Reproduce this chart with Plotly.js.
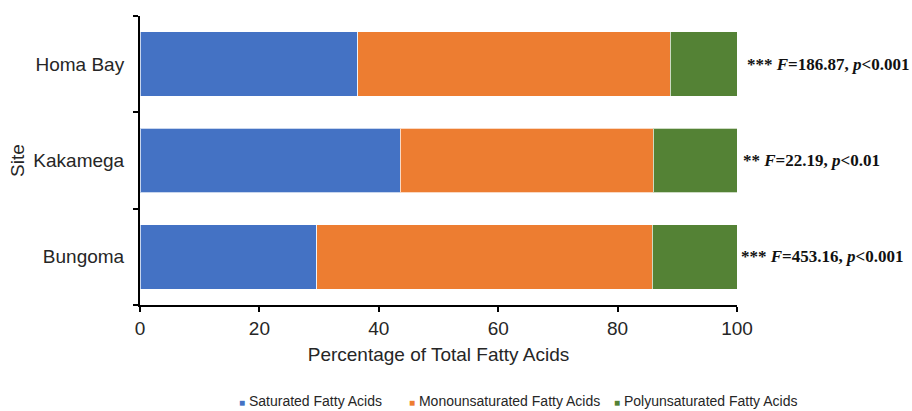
<!DOCTYPE html>
<html>
<head>
<meta charset="utf-8">
<script src="https://cdn.plot.ly/plotly-3.0.1.min.js"></script>
<style>html,body{margin:0;padding:0;background:#fff;}#chart{width:912px;height:411px;}</style>
</head>
<body>
<div id="chart"></div>
<script>
const sites = ['Bungoma', 'Kakamega', 'Homa Bay'];
const saturated = [29.6, 43.6, 36.5];
const monounsaturated = [56.2, 42.4, 52.3];
const polyunsaturated = [14.2, 14.0, 11.2];
const seriesNames = ['Saturated Fatty Acids', 'Monounsaturated Fatty Acids', 'Polyunsaturated Fatty Acids'];
const statLabels = [
  '*** <i>F</i>=453.16, <i>p</i>&lt;0.001',
  '** <i>F</i>=22.19, <i>p</i>&lt;0.01',
  '*** <i>F</i>=186.87, <i>p</i>&lt;0.001'
];
const xTicks = [0, 20, 40, 60, 80, 100];

const colors = ['#4472C4', '#ED7D31', '#548235'];
const statX = [1.004, 1.007, 1.0135];
const legendX = [0.162, 0.448, 0.79];
const values = [saturated, monounsaturated, polyunsaturated];
const traces = values.map((v, i) => ({
  type: 'bar', orientation: 'h', y: sites, x: v, name: seriesNames[i],
  marker: {color: colors[i], line: {color: 'rgba(255,255,255,0.7)', width: 1}},
  hoverinfo: 'x+y', showlegend: false
}));

const annotations = sites.map((s, i) => ({
  x: statX[i], y: s, xref: 'paper', yref: 'y', xanchor: 'left', yanchor: 'middle',
  text: '<b>' + statLabels[i] + '</b>', showarrow: false,
  font: {family: 'Liberation Serif, Times New Roman, serif', size: 17, color: '#111'}
}));
seriesNames.forEach((n, i) => annotations.push({
  x: legendX[i], y: -0.332, xref: 'paper', yref: 'paper', xanchor: 'left', yanchor: 'middle',
  text: '<span style="color:' + colors[i] + ';font-size:10px">■</span> ' + n, showarrow: false,
  font: {family: 'Liberation Sans, Arial, sans-serif', size: 14, color: '#262626'}
}));

const layout = {
  width: 912, height: 411,
  margin: {l: 140, r: 175, t: 16, b: 106},
  paper_bgcolor: '#fff', plot_bgcolor: '#fff',
  barmode: 'stack', bargap: 0.33,
  font: {family: 'Liberation Sans, Arial, sans-serif', color: '#262626'},
  xaxis: {
    range: [0, 100], tickvals: xTicks, ticktext: xTicks.map(String),
    showgrid: false, zeroline: false,
    showline: true, linecolor: '#000', linewidth: 2,
    ticks: 'outside', ticklen: 5, tickcolor: '#000', tickwidth: 2,
    tickfont: {size: 19},
    title: {text: 'Percentage of Total Fatty Acids', font: {size: 19}, standoff: 10}
  },
  yaxis: {
    categoryorder: 'array', categoryarray: sites,
    showgrid: false, zeroline: false,
    showline: true, linecolor: '#000', linewidth: 2,
    ticks: 'outside', tickson: 'boundaries', ticklen: 5, tickcolor: '#000', tickwidth: 2,
    tickfont: {size: 19}, ticklabelstandoff: 10,
    title: {text: 'Site', font: {size: 19}, standoff: 4}
  },
  showlegend: false,
  annotations: annotations
};

Plotly.newPlot('chart', traces, layout, {displayModeBar: false, staticPlot: true});
</script>
</body>
</html>
